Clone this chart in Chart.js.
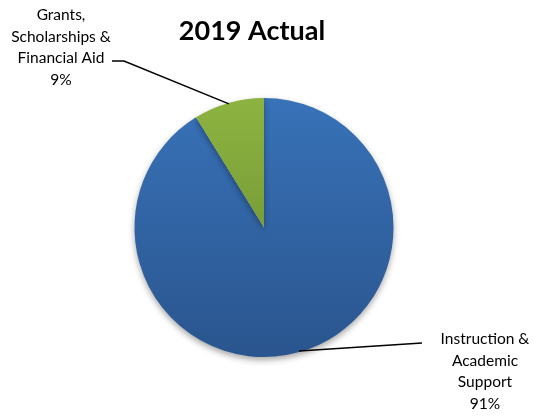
<!DOCTYPE html>
<html lang="en">
<head>
  <meta charset="UTF-8" />
  <title>2019 Actual</title>
  <script src="https://cdn.jsdelivr.net/npm/chart.js"></script>
  <style>
    html, body { margin: 0; padding: 0; background: #fff; }
    #wrap { width: 534px; height: 418px; }
  </style>
</head>
<body>
<div id="wrap"><canvas id="pieChart" width="534" height="418"></canvas></div>
<script>
  const chartTitle = '2019 Actual';
  const categories = ['Instruction & Academic Support', 'Grants, Scholarships & Financial Aid'];
  const labelLines = [['Instruction &', 'Academic', 'Support'], ['Grants,', 'Scholarships &', 'Financial Aid']];
  const values = [91.2, 8.8];
  const pctLabels = ['91%', '9%'];
  const topColors = ['#3872b8', '#8db441'];
  const bottomColors = ['#2a558e', '#66862e'];

  const FONT = 'Lato, "Liberation Sans", sans-serif';

  // where each label block is centred and where its leader line ends
  const labelPos = [
    { x: 485, y: 339, lineEnd: [422, 343], elbow: null },
    { x: 61, y: 15, lineEnd: [112, 61], elbow: [124, 61] }
  ];

  function sliceFill(ctx) {
    const i = ctx.dataIndex;
    const area = ctx.chart.chartArea;
    if (!area) return topColors[i];
    const g = ctx.chart.ctx.createLinearGradient(0, area.top, 0, area.bottom);
    g.addColorStop(0, topColors[i]);
    g.addColorStop(1, bottomColors[i]);
    return g;
  }

  const shadowPlugin = {
    id: 'shadow',
    beforeDatasetsDraw(chart) {
      const c = chart.ctx;
      c.save();
      c.shadowColor = 'rgba(0,0,0,0.35)';
      c.shadowBlur = 6;
      c.shadowOffsetY = 3;
    },
    afterDatasetsDraw(chart) {
      chart.ctx.restore();
    }
  };

  const labelsPlugin = {
    id: 'calloutLabels',
    afterDraw(chart) {
      const c = chart.ctx;
      const meta = chart.getDatasetMeta(0);
      c.save();
      // title
      c.fillStyle = '#000';
      c.font = 'bold 27px ' + FONT;
      c.textAlign = 'center';
      c.textBaseline = 'middle';
      c.fillText(chartTitle, 252, 31);

      meta.data.forEach((arc, i) => {
        const p = arc.getProps(['x', 'y', 'startAngle', 'endAngle', 'outerRadius'], true);
        const mid = (p.startAngle + p.endAngle) / 2;
        const sx = p.x + Math.cos(mid) * (p.outerRadius - 1);
        const sy = p.y + Math.sin(mid) * (p.outerRadius - 1);
        const lp = labelPos[i];
        c.strokeStyle = '#000';
        c.lineWidth = 1.5;
        c.beginPath();
        c.moveTo(sx, sy);
        if (lp.elbow) c.lineTo(lp.elbow[0], lp.elbow[1]);
        c.lineTo(lp.lineEnd[0], lp.lineEnd[1]);
        c.stroke();

        c.font = '15.5px ' + FONT;
        c.fillStyle = '#000';
        const lines = labelLines[i].concat([pctLabels[i]]);
        lines.forEach((t, k) => c.fillText(t, lp.x, lp.y + k * 21.5));
      });
      c.restore();
    }
  };

  new Chart(document.getElementById('pieChart'), {
    type: 'pie',
    data: {
      labels: categories,
      datasets: [{
        data: values,
        backgroundColor: sliceFill,
        borderWidth: 0
      }]
    },
    options: {
      responsive: false,
      animation: false,
      layout: { padding: { left: 134, right: 140, top: 98, bottom: 61 } },
      plugins: {
        legend: { display: false },
        tooltip: { enabled: false },
        title: { display: false }
      }
    },
    plugins: [shadowPlugin, labelsPlugin]
  });
</script>
</body>
</html>
